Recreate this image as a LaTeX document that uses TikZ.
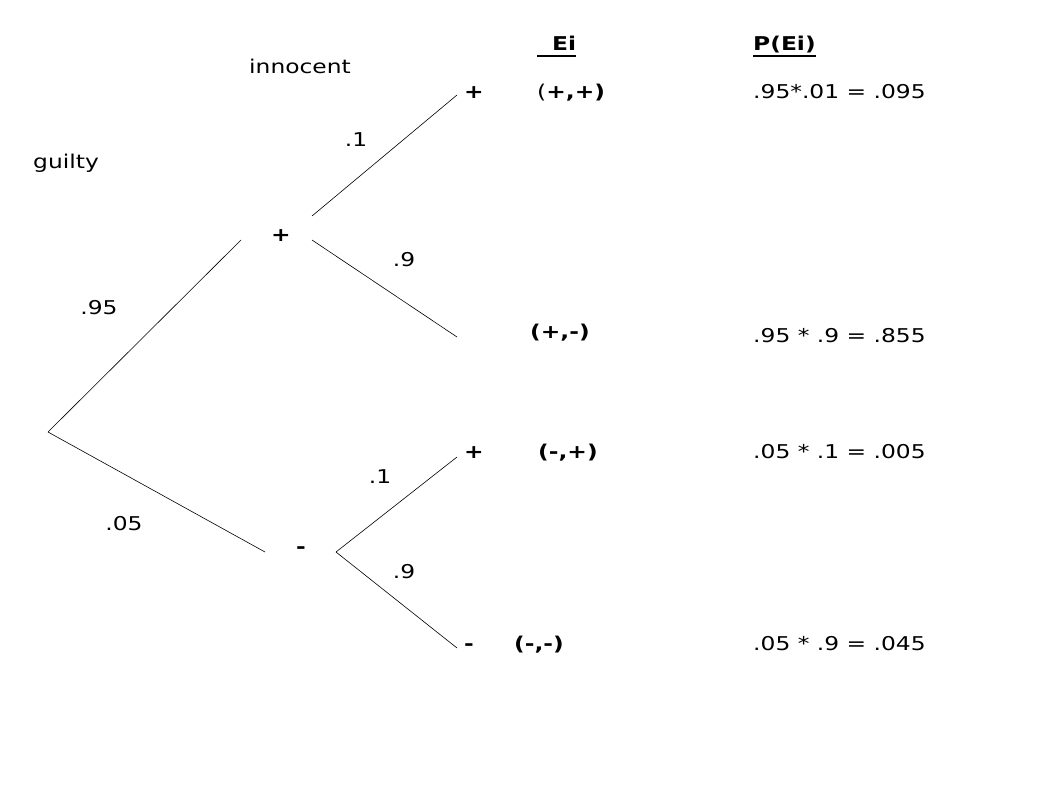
\documentclass[tikz,border=0pt]{standalone}
\usepackage{fontspec}
\setmainfont{DejaVu Sans}[FakeStretch=1.23]
\newsavebox\ulbox
\newcommand\myul[1]{\sbox\ulbox{#1}\usebox\ulbox\llap{\rule[-6.5pt]{\wd\ulbox}{1.6pt}}}
\begin{document}
\begin{tikzpicture}[x=1pt,y=-1pt,
  lbl/.style={inner sep=0pt, font=\fontsize{19}{23}\selectfont},
  bl/.style={lbl, font=\fontsize{19}{23}\selectfont\bfseries},
  branch/.style={line width=0.6pt, black}]
\useasboundingbox (0,0) rectangle (1059,795);
% tree points
\coordinate (root) at (48,432);
\coordinate (gIn) at (241,240);
\coordinate (gOutA) at (312,216);
\coordinate (gOutB) at (312,240);
\coordinate (nIn) at (265,552);
\coordinate (nOut) at (336,552);
\coordinate (ppEnd) at (457,95);
\coordinate (pmEnd) at (457,337);
\coordinate (mpEnd) at (457,457);
\coordinate (mmEnd) at (457,648);
% branches
\draw[branch] (root) -- (gIn);
\draw[branch] (root) -- (nIn);
\draw[branch] (gOutA) -- (ppEnd);
\draw[branch] (gOutB) -- (pmEnd);
\draw[branch] (nOut) -- (mpEnd);
\draw[branch] (nOut) -- (mmEnd);
% labels
\node[lbl, anchor=base west] (innocent) at (249,73.5) {innocent};
\node[lbl, anchor=base west] (guilty) at (33,168.5) {guilty};
\node[lbl, anchor=base] (p1a) at (356,146) {.1};
\node[lbl, anchor=base] (p9a) at (404,266) {.9};
\node[lbl, anchor=base] (p95) at (99,314) {.95};
\node[lbl, anchor=base] (p05) at (124,530) {.05};
\node[lbl, anchor=base] (p1b) at (380,483) {.1};
\node[lbl, anchor=base] (p9b) at (404,578) {.9};
\node[bl, anchor=base] (gplus) at (281,241.5) {+};
\node[bl, anchor=base] (nminus) at (301,553.5) {-};
% outcomes
\node[bl, anchor=base] (tp1) at (474,98) {+};
\node[lbl, anchor=base west] (e1) at (537,98) {(\textbf{+,+)}};
\node[bl, anchor=base west] (e2) at (530,338) {(+,-)};
\node[bl, anchor=base] (tp3) at (474,458) {+};
\node[bl, anchor=base west] (e3) at (538,458) {(-,+)};
\node[bl, anchor=base] (tm4) at (469,650) {-};
\node[bl, anchor=base west] (e4) at (514,650) {(-,-)};
% headers
\node[bl, anchor=base west] (hEi) at (537,50) {\myul{\makebox[39pt][r]{Ei}}};
\node[bl, anchor=base west] (hPEi) at (753,50) {\myul{P(Ei)}};
% probabilities
\node[lbl, anchor=base west] (pr1) at (753,98) {.95*.01 = .095};
\node[lbl, anchor=base west] (pr2) at (753,342) {.95 * .9 = .855};
\node[lbl, anchor=base west] (pr3) at (753,458) {.05 * .1 = .005};
\node[lbl, anchor=base west] (pr4) at (753,650) {.05 * .9 = .045};
\end{tikzpicture}
\end{document}
